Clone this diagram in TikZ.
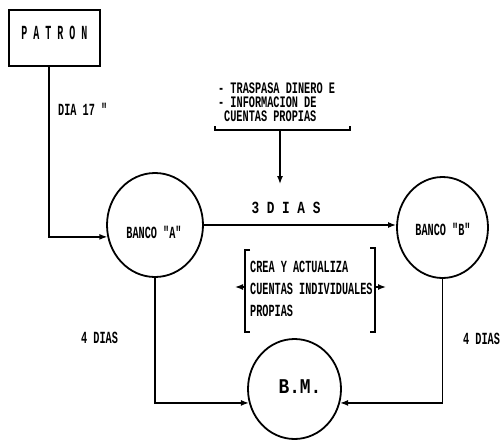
\documentclass[tikz,border=0pt]{standalone}
\usepackage{fontspec}
\usetikzlibrary{arrows.meta,shapes.geometric}
\newfontfamily\dmfont[FakeStretch=0.6]{Liberation Mono}
\newfontfamily\dmtop[FakeStretch=0.64]{Liberation Mono}
\newfontfamily\dmmid[FakeStretch=0.75]{Liberation Mono}
\newfontfamily\dmwide[FakeStretch=0.85]{Liberation Mono}
\newfontfamily\dmnarrow[FakeStretch=0.5]{Liberation Mono}
\begin{document}
\begin{tikzpicture}[x=1pt,y=-1pt,
  txt/.style={font=\dmfont\bfseries\fontsize{17}{17}\selectfont, inner sep=0pt, anchor=west, text height=10pt, text depth=0pt},
  ttxt/.style={font=\dmtop\bfseries\fontsize{16}{16}\selectfont, inner sep=0pt, anchor=west, text height=9pt, text depth=0pt},
  ctxt/.style={font=\dmfont\bfseries\fontsize{17}{17}\selectfont, inner sep=0pt, text height=10pt, text depth=0pt},
  bank/.style={ellipse, draw, line width=1.8pt, minimum width=#1, inner sep=0pt},
  arr/.style={line width=1.4pt, -{Latex[length=8pt,width=6pt]}},
  brk/.style={line width=1.4pt},
]
\useasboundingbox (0,0) rectangle (504,442);

% nodes
\node[draw, line width=1.8pt, minimum width=91pt, minimum height=56pt, inner sep=0pt]
      (patron) at (54.5,38) {};
\node[font=\dmnarrow\bfseries\fontsize{20}{20}\selectfont, inner sep=0pt]
      (tpat) at (54.5,33) {P A T R O N};
\node[bank=96pt, minimum height=104pt] (bancoA) at (155,225) {};
\node[bank=91pt, minimum height=101pt] (bancoB) at (442.5,227.5) {};
\node[bank=93pt, minimum height=100pt] (bm) at (294.5,389) {};

\node[ctxt] (ta) at (154,233) {BANCO "A"};
\node[ctxt] (tb) at (443,230) {BANCO "B"};
\node[font=\dmwide\bfseries\fontsize{21}{21}\selectfont, inner sep=0pt] (tbm) at (300,387) {B.M.};

% labels
\node[txt] (dia17) at (58,110) {DIA 17 "};
\node[ctxt, font=\dmmid\bfseries\fontsize{17}{17}\selectfont] (tres) at (286,208) {3 D I A S};
\node[txt] (cuatroA) at (81,338) {4 DIAS};
\node[txt] (cuatroB) at (463,339) {4 DIAS};

% top annotation
\node[ttxt] (t1) at (218,89) {- TRASPASA DINERO E};
\node[ttxt] (t2) at (218,103) {- INFORMACION DE};
\node[ttxt] (t3) at (224,117) {CUENTAS PROPIAS};
\draw[brk] (215,126) -- (215,130) -- (350,130) -- (350,126);
\coordinate (brkmid) at (280,130);
\coordinate (brktip) at (280,184);
\draw[arr] (brkmid) -- (brktip);

% middle annotation
\node[txt] (m1) at (250,267) {CREA Y ACTUALIZA};
\node[txt] (m2) at (250,289) {CUENTAS INDIVIDUALES};
\node[txt] (m3) at (250,311) {PROPIAS};
\draw[brk] (250,250) -- (245,250) -- (245,332) -- (250,332);
\draw[brk] (370,248) -- (375,248) -- (375,332) -- (370,332);
\coordinate (lb) at (245,287);
\coordinate (lbt) at (235,287);
\coordinate (rb) at (375,287);
\coordinate (rbt) at (386,287);
\draw[arr] (lb) -- (lbt);
\draw[arr] (rb) -- (rbt);

% connectors
\draw[arr] ([xshift=-5.5pt]patron.south) |- (bancoA.194);
\draw[arr] (bancoA.east) -- (bancoA.east -| bancoB.west);
\draw[arr] (bancoA.south) |- (bm.197);
\draw[arr] (bancoB.south) |- (bm.343);
\end{tikzpicture}
\end{document}
